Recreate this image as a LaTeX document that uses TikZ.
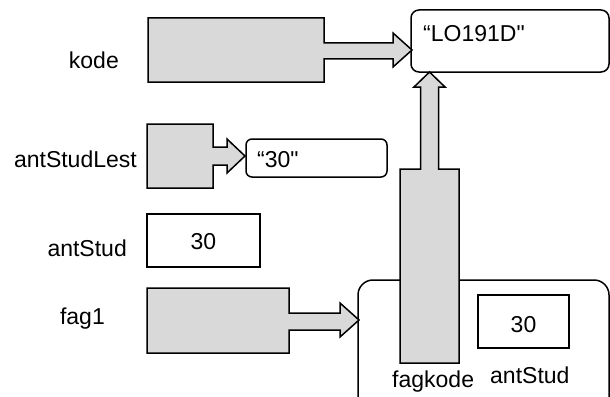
\documentclass[tikz,border=0pt]{standalone}
\usepackage{fontspec}
\setmainfont{Liberation Sans}
\newfontfamily\qfont{Liberation Sans}[Ligatures=TeXOff]
\definecolor{boxgray}{HTML}{D9D9D9}
\tikzset{
  outl/.style={draw=black, line width=1.5pt, line join=miter},
  garrow/.style={outl, fill=boxgray},
  valbox/.style={outl, fill=white},
  txt/.style={inner sep=0pt, font=\fontsize{23}{27}\selectfont},
  qtxt/.style={inner sep=0pt, font=\qfont\fontsize{23}{27}\selectfont},
}
\begin{document}
\begin{tikzpicture}[x=1pt,y=-1pt]
\useasboundingbox (0,0) rectangle (610,396);
\clip (0,0) rectangle (610,396);

% object box for fag1 (extends below picture)
\draw[valbox, rounded corners=15pt] (358,280) rectangle (609,430);

% value boxes
\draw[valbox, rounded corners=8pt] (411,10) rectangle (609,72);
\node[qtxt, anchor=base west] (lotext) at (423,42) {“LO191D"};

\draw[valbox, rounded corners=6pt] (246,139) rectangle (387,177);
\node[qtxt, anchor=base west] (s30) at (257,167) {“30"};

\draw[valbox] (147,214) rectangle (260,267);
\node[txt, anchor=base] (n30) at (203.5,249) {30};

\draw[valbox] (478,295) rectangle (569,348);
\node[txt, anchor=base] (in30) at (523.5,332) {30};

% reference variables with block arrows
% kode
\draw[garrow] (148,18) -- (324,18) -- (324,43) -- (393,43) -- (393,33) -- (412,50)
  -- (393,67) -- (393,59) -- (324,59) -- (324,82) -- (148,82) -- cycle;
% antStudLest
\draw[garrow] (147,124) -- (213,124) -- (213,147) -- (227,147) -- (227,139) -- (245,156)
  -- (227,173) -- (227,165) -- (213,165) -- (213,188) -- (147,188) -- cycle;
% fag1
\draw[garrow] (147,288) -- (289,288) -- (289,313) -- (340,313) -- (340,303) -- (359,320)
  -- (340,337) -- (340,330) -- (289,330) -- (289,353) -- (147,353) -- cycle;
% fagkode
\draw[garrow] (400,363) -- (400,169) -- (420.5,169) -- (420.5,87) -- (414,87) -- (429.5,72)
  -- (445,87) -- (438.5,87) -- (438.5,169) -- (459,169) -- (459,363) -- cycle;

% labels
\node[txt, anchor=base east] (lkode) at (119,68) {kode};
\node[txt, anchor=base east] (lasl) at (137,167) {antStudLest};
\node[txt, anchor=base east] (las) at (127,256) {antStud};
\node[txt, anchor=base east] (lfag) at (105,324) {fag1};
\node[txt, anchor=base west] (lfk) at (392,387) {fagkode};
\node[txt, anchor=base west] (lis) at (490,383) {antStud};
\end{tikzpicture}
\end{document}
